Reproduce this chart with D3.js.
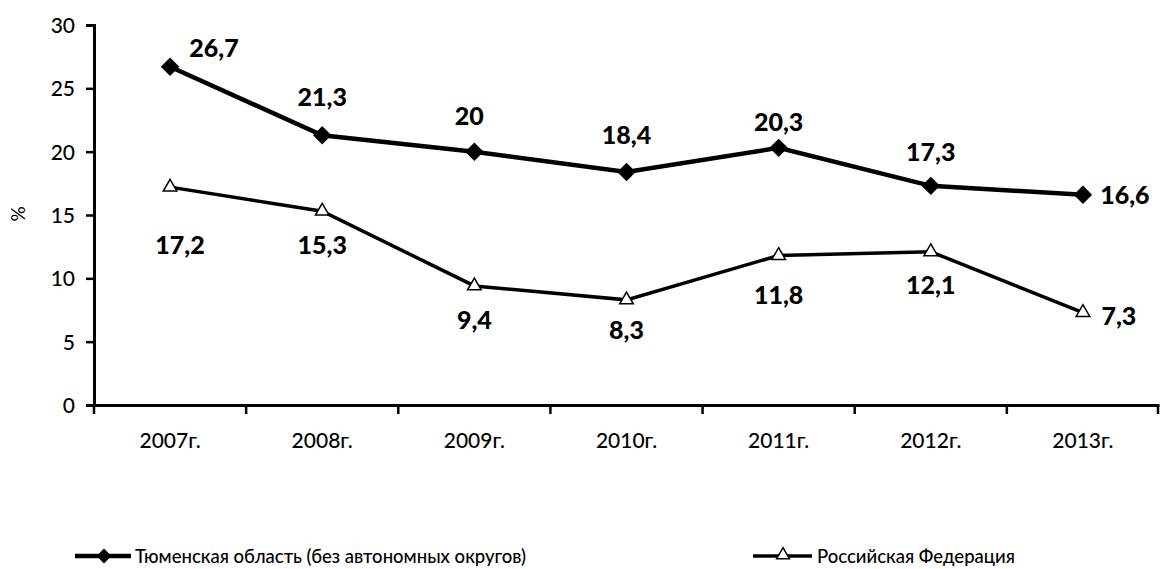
<!DOCTYPE html>
<html><head><meta charset="utf-8">
<script src="https://cdn.jsdelivr.net/npm/d3@7"></script>
<style>body{margin:0;background:#fff}svg{display:block}text{font-family:Lato,"Open Sans",sans-serif;fill:#000}</style>
</head><body><svg width="1161" height="569"></svg>
<script>
const categories = ["2007г.","2008г.","2009г.","2010г.","2011г.","2012г.","2013г."];
const tyumen = [26.7,21.3,20,18.4,20.3,17.3,16.6];
const russia = [17.2,15.3,9.4,8.3,11.8,12.1,7.3];
const yTicks = [0,5,10,15,20,25,30];
const seriesNames = ["Тюменская область (без автономных округов)","Российская Федерация"];

const svg = d3.select("svg");
const m = {l:94, r:1159, t:25, b:405};
const x = d3.scaleBand().domain(categories).range([m.l, m.r]);
const y = d3.scaleLinear().domain([0,30]).range([m.b, m.t]);
const cx = d => x(d) + x.bandwidth()/2;

// y axis
const ya = svg.append("g").attr("transform",`translate(${m.l},0)`)
  .call(d3.axisLeft(y).tickValues(yTicks).tickSize(8).tickPadding(11));
ya.select(".domain").attr("stroke","#000").attr("stroke-width",3);
ya.selectAll(".tick line").attr("stroke","#000").attr("stroke-width",2.5);
ya.selectAll("text").style("font-size","21px").style("font-weight","500").attr("dy","0.36em");

// x axis
const xa = svg.append("g").attr("transform",`translate(0,${m.b})`)
  .call(d3.axisBottom(x).tickSize(0).tickPadding(28));
xa.select(".domain").attr("stroke","#000").attr("stroke-width",3);
xa.selectAll("text").style("font-size","21px").style("font-weight","500");
// boundary ticks
const bounds = categories.map(c=>x(c)).concat([m.r-1]);
svg.append("g").selectAll("line").data(bounds).join("line")
  .attr("x1",d=>d).attr("x2",d=>d).attr("y1",m.b).attr("y2",m.b+9)
  .attr("stroke","#000").attr("stroke-width",2.5);

svg.append("text").attr("transform","translate(25,214) rotate(-90)")
  .attr("text-anchor","middle").style("font-size","19px").text("%");

const line = d3.line().x((d,i)=>cx(categories[i])).y(d=>y(d));
svg.append("path").datum(tyumen).attr("d",line).attr("fill","none").attr("stroke","#000").attr("stroke-width",4.5);
svg.append("path").datum(russia).attr("d",line).attr("fill","none").attr("stroke","#000").attr("stroke-width",3.5);

svg.append("g").selectAll("path").data(tyumen).join("path")
  .attr("d",d3.symbol().type(d3.symbolSquare).size(170))
  .attr("transform",(d,i)=>`translate(${cx(categories[i])},${y(d)}) rotate(45)`)
  .attr("fill","#000");
svg.append("g").selectAll("path").data(russia).join("path")
  .attr("transform",(d,i)=>`translate(${cx(categories[i])},${y(d)})`)
  .attr("d",d3.symbol().type(d3.symbolTriangle).size(80))
  .attr("fill","#fff").attr("stroke","#000").attr("stroke-width",1.5);

// labels
const fmt = v => String(v).replace(".",",");
const topOff = [[44,-10],[0,-29],[-5,-27],[0,-28],[0,-17],[0,-25],[42,9]];
const botOff = [[10,67],[0,43],[0,43],[0,39],[0,48],[0,42],[36,12]];
function labels(data, off){
  svg.append("g").selectAll("text").data(data).join("text")
    .attr("x",(d,i)=>cx(categories[i])+off[i][0]).attr("y",(d,i)=>y(d)+off[i][1])
    .attr("text-anchor","middle").style("font-size","25px").style("font-weight","900")
    .text(fmt);
}
labels(tyumen, topOff);
labels(russia, botOff);

// legend
const lg = svg.append("g");
const ly = 556;
lg.append("line").attr("x1",75).attr("x2",131).attr("y1",ly).attr("y2",ly).attr("stroke","#000").attr("stroke-width",4.5);
lg.append("path").attr("transform",`translate(104,${ly}) rotate(45)`).attr("d",d3.symbol().type(d3.symbolSquare).size(110)).attr("fill","#000");
lg.append("text").attr("x",135).attr("y",ly+7).style("font-size","18.5px").style("font-weight","500").text(seriesNames[0]);
lg.append("line").attr("x1",753).attr("x2",812).attr("y1",ly).attr("y2",ly).attr("stroke","#000").attr("stroke-width",3.5);
lg.append("path").attr("transform",`translate(783,${ly-1})`).attr("d",d3.symbol().type(d3.symbolTriangle).size(70)).attr("fill","#fff").attr("stroke","#000").attr("stroke-width",1.5);
lg.append("text").attr("x",817).attr("y",ly+7).style("font-size","18.5px").style("font-weight","500").text(seriesNames[1]);
</script></body></html>
